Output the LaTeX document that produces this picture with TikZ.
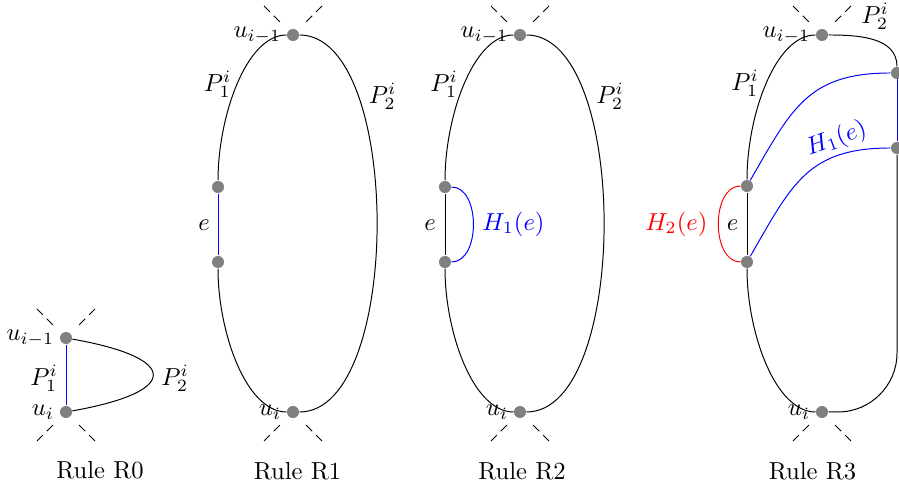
\documentclass[tikz,border=0pt]{standalone}
\usepackage{amsmath}
\usepackage{xcolor}
\usetikzlibrary{positioning}

\begin{document}
\begin{tikzpicture}[
    x=0.4066pt, y=0.4066pt,
    vert/.style={circle, fill=gray, inner sep=0pt, minimum size=4.9pt},
    lbl/.style={inner sep=1pt},
    stub/.style={dash pattern=on 3.5pt off 2.3pt, shorten <=4.9pt},
]
    \useasboundingbox (0,0) rectangle (899,487);

    % Rule R0
    \node[vert] (top0) at (66,149) {};
    \node[vert] (bot0) at (66,75) {};
    \node[lbl, left=1pt of top0] (lt0) {$u_{i-1}$};
    \node[lbl, left=1pt of bot0] (lb0) {$u_i$};
    \node (pa0) at (44,109) {$P_1^i$};
    \node (pb0) at (175,109) {$P_2^i$};
    \node (r0) at (100,17) {Rule R0};
    \draw[blue] (top0) -- (bot0);
    \draw (top0) .. controls +(-10:116) and +(10:116) .. (bot0);
    \draw[stub] (top0) -- +(45:41);
    \draw[stub] (top0) -- +(135:41);
    \draw[stub] (bot0) -- +(-45:41);
    \draw[stub] (bot0) -- +(-135:41);

    % Rule R1
    \node[vert] (top1) at (293,452) {};
    \node[vert] (bot1) at (293,75) {};
    \node[vert] (ea1) at (218,300) {};
    \node[vert] (eb1) at (218,225) {};
    \node[lbl, left=1pt of top1] (lt1) {$u_{i-1}$};
    \node[lbl, left=1pt of bot1] (lb1) {$u_i$};
    \node (pa1) at (217.5,403) {$P_1^i$};
    \node (pb1) at (382.5,391) {$P_2^i$};
    \node (e1) at (204,262) {$e$};
    \node (r1) at (297.5,16) {Rule R1};
    \draw (ea1) .. controls +(0,70) and +(-47,0) .. (top1);
    \draw[blue] (ea1) -- (eb1);
    \draw (eb1) .. controls +(0,-70) and +(-47,0) .. (bot1);
    \draw (top1) .. controls +(110,0) and +(110,0) .. (bot1);
    \draw[stub] (top1) -- +(45:41);
    \draw[stub] (top1) -- +(135:41);
    \draw[stub] (bot1) -- +(-45:41);
    \draw[stub] (bot1) -- +(-135:41);

    % Rule R2
    \node[vert] (top2) at (520,452) {};
    \node[vert] (bot2) at (520,75) {};
    \node[vert] (ea2) at (445,300) {};
    \node[vert] (eb2) at (445,225) {};
    \node[lbl, left=1pt of top2] (lt2) {$u_{i-1}$};
    \node[lbl, left=1pt of bot2] (lb2) {$u_i$};
    \node (pa2) at (444,403) {$P_1^i$};
    \node (pb2) at (610,391) {$P_2^i$};
    \node (e2) at (430,262) {$e$};
    \node[blue] (h2) at (513.5,263) {$H_1(e)$};
    \node (r2) at (522,16) {Rule R2};
    \draw (ea2) .. controls +(0,70) and +(-47,0) .. (top2);
    \draw (ea2) -- (eb2);
    \draw (eb2) .. controls +(0,-70) and +(-47,0) .. (bot2);
    \draw[blue] (ea2) to[out=0, in=0] (eb2);
    \draw (top2) .. controls +(110,0) and +(110,0) .. (bot2);
    \draw[stub] (top2) -- +(45:41);
    \draw[stub] (top2) -- +(135:41);
    \draw[stub] (bot2) -- +(-45:41);
    \draw[stub] (bot2) -- +(-135:41);

    % Rule R3
    \node[vert] (top3) at (822,452) {};
    \node[vert] (bot3) at (822,75) {};
    \node[vert] (ea3) at (747,301) {};
    \node[vert] (eb3) at (747,225) {};
    \node[vert] (fa3) at (897,414) {};
    \node[vert] (fb3) at (897,339) {};
    \node[lbl, left=1pt of top3] (lt3) {$u_{i-1}$};
    \node[lbl, left=1pt of bot3] (lb3) {$u_i$};
    \node (pa3) at (745,403.5) {$P_1^i$};
    \node (pb3) at (875,470.5) {$P_2^i$};
    \node (e3) at (732.7,262) {$e$};
    \node[red] (hr3) at (676.3,263) {$H_2(e)$};
    \node[blue, rotate=20] (hb3) at (836.5,348) {$H_1(e)$};
    \node (r3) at (812.5,16) {Rule R3};
    \draw (ea3) .. controls +(0,70) and +(-47,0) .. (top3);
    \draw (ea3) -- (eb3);
    \draw (eb3) .. controls +(0,-70) and +(-47,0) .. (bot3);
    \draw[red] (ea3) to[out=180, in=180] (eb3);
    \draw[blue] (ea3) to[out=60, in=180, looseness=1.2] (fa3);
    \draw[blue] (eb3) to[out=60, in=180, looseness=1.2] (fb3);
    \draw[blue] (fa3) -- (fb3);
    \draw (top3) to[out=0, in=90] (fa3);
    \draw[rounded corners=24pt] (fb3) |- (bot3);
    \draw[stub] (top3) -- +(45:41);
    \draw[stub] (top3) -- +(135:41);
    \draw[stub] (bot3) -- +(-45:41);
    \draw[stub] (bot3) -- +(-135:41);
\end{tikzpicture}
\end{document}
